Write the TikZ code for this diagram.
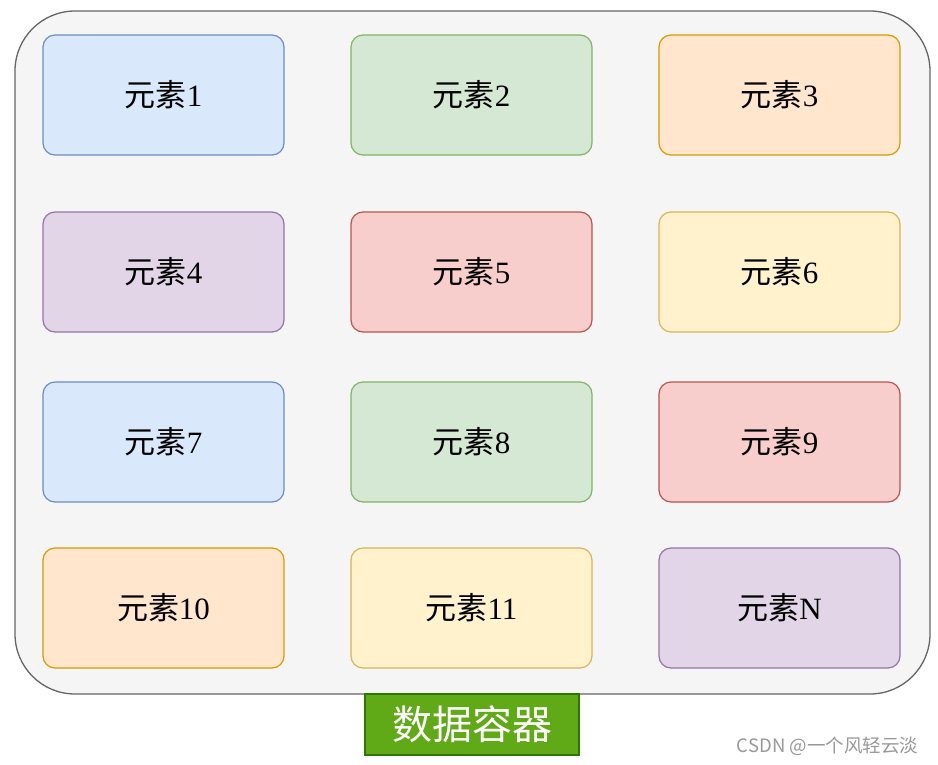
\documentclass[tikz,border=0pt]{standalone}
\usepackage{fontspec}
\setmainfont{Liberation Serif}
\newfontfamily\cjk{Noto Sans CJK SC}
\usepackage{tikz}

\definecolor{blueF}{HTML}{DAE8FC}\definecolor{blueD}{HTML}{6C8EBF}
\definecolor{greenF}{HTML}{D5E8D4}\definecolor{greenD}{HTML}{82B366}
\definecolor{orangeF}{HTML}{FFE6CC}\definecolor{orangeD}{HTML}{D79B00}
\definecolor{purpleF}{HTML}{E1D5E7}\definecolor{purpleD}{HTML}{9673A6}
\definecolor{redF}{HTML}{F8CECC}\definecolor{redD}{HTML}{B85450}
\definecolor{yellowF}{HTML}{FFF2CC}\definecolor{yellowD}{HTML}{D6B656}
\definecolor{boxgray}{HTML}{F5F5F5}\definecolor{edgegray}{HTML}{666666}
\definecolor{labelF}{HTML}{60A917}\definecolor{labelD}{HTML}{2D7600}

\newcommand{\elem}[1]{{\cjk 元素}#1}

\begin{document}
\begin{tikzpicture}[x=1pt, y=1pt, yscale=-1,
  elembox/.style={rounded corners=12pt, line width=1.2pt, minimum width=241pt,
    minimum height=120pt, inner sep=0pt, font=\fontsize{31}{31}\selectfont},
  blueEl/.style={elembox, fill=blueF, draw=blueD},
  greenEl/.style={elembox, fill=greenF, draw=greenD},
  orangeEl/.style={elembox, fill=orangeF, draw=orangeD},
  purpleEl/.style={elembox, fill=purpleF, draw=purpleD},
  redEl/.style={elembox, fill=redF, draw=redD},
  yellowEl/.style={elembox, fill=yellowF, draw=yellowD}]
\useasboundingbox (0,0) rectangle (938,764);
\fill[white] (0,0) rectangle (938,764);
\node[draw=edgegray, fill=boxgray, line width=1.3pt, rounded corners=60pt,
  minimum width=915pt, minimum height=683pt, inner sep=0pt] (container) at (472.5,352.5) {};

\node[blueEl] (e1) at (163.5,95) {\elem{1}};
\node[greenEl] (e2) at (471.5,95) {\elem{2}};
\node[orangeEl] (e3) at (779.5,95) {\elem{3}};
\node[purpleEl] (e4) at (163.5,272) {\elem{4}};
\node[redEl] (e5) at (471.5,272) {\elem{5}};
\node[yellowEl] (e6) at (779.5,272) {\elem{6}};
\node[blueEl] (e7) at (163.5,442) {\elem{7}};
\node[greenEl] (e8) at (471.5,442) {\elem{8}};
\node[redEl] (e9) at (779.5,442) {\elem{9}};
\node[orangeEl] (e10) at (163.5,608) {\elem{10}};
\node[yellowEl] (e11) at (471.5,608) {\elem{11}};
\node[purpleEl] (eN) at (779.5,608) {\elem{N}};

\node[fill=labelF, draw=labelD, line width=1.2pt, minimum width=214pt, minimum height=61pt,
  inner sep=0pt, text=white, font=\cjk\fontsize{40}{40}\selectfont] (title) at (472,724.5) {数据容器};
\node[text=black!40, font=\fontsize{18.5}{18.5}\selectfont\cjk] (mark) at (827.5,746) {CSDN @一个风轻云淡};
\end{tikzpicture}
\end{document}
